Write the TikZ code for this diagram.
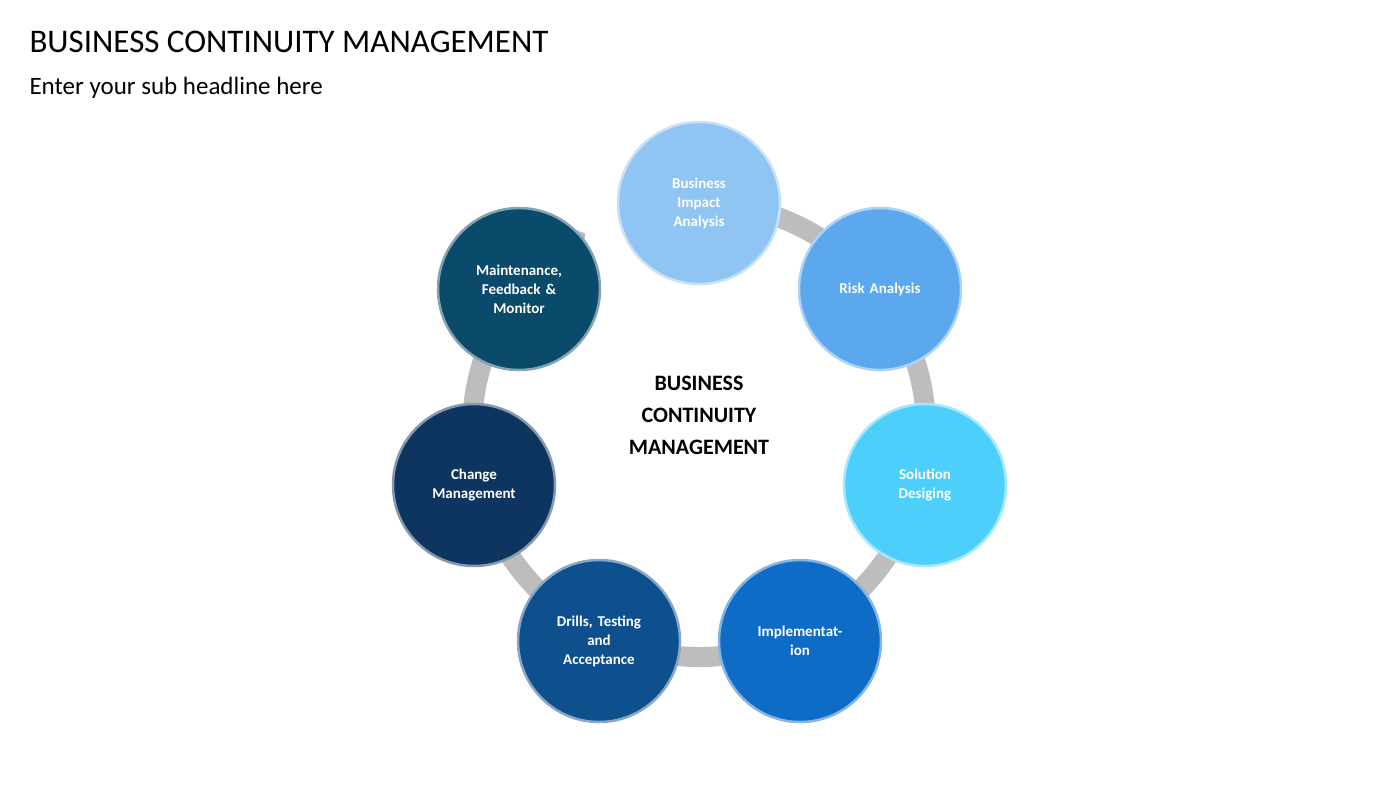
\documentclass[tikz,border=0pt]{standalone}
\usepackage{fontspec}
\setmainfont{Carlito}
\usetikzlibrary{arrows.meta,calc}
\definecolor{bia}{HTML}{90C4F2}
\definecolor{risk}{HTML}{5BA8EE}
\definecolor{sol}{HTML}{4DCFFB}
\definecolor{impl}{HTML}{0F6CC6}
\definecolor{drill}{HTML}{0E4F8E}
\definecolor{chg}{HTML}{0D3560}
\definecolor{maint}{HTML}{0A4A6A}
\definecolor{ringgray}{HTML}{BDBDBD}
\begin{document}
\begin{tikzpicture}[x=1pt,y=-1pt,
    stage/.style={circle,minimum size=162pt,inner sep=0pt,text width=120pt,align=center,
        text=white,font=\fontsize{15}{19}\selectfont\bfseries,line width=2.5pt},
    ring/.style={draw=ringgray,line width=20pt,-{Triangle[length=16pt,width=38pt]}}]
    \useasboundingbox (0,0) rectangle (1400,788);
    \node[anchor=west,font=\fontsize{33}{38}\selectfont] (title) at (26,42) {BUSINESS CONTINUITY MANAGEMENT};
    \node[anchor=west,font=\fontsize{25}{30}\selectfont] (sub) at (26,88) {Enter your sub headline here};

    \coordinate (ctr) at (699,430);
    \draw[ring] ($(ctr)+(-80:227)$) arc[start angle=-80,end angle=240,radius=227];

    \node[stage,fill=bia,draw=bia!50!white] (bia) at (699,203) {Business\\Impact\\Analysis};
    \node[stage,fill=risk,draw=risk!50!white] (risk) at (880,289) {Risk Analysis};
    \node[stage,fill=sol,draw=sol!50!white] (sol) at (925,485) {Solution\\Desiging};
    \node[stage,fill=impl,draw=impl!50!white] (impl) at (800,641) {Implementat-\\ion};
    \node[stage,fill=drill,draw=drill!50!white] (drill) at (599,641) {Drills, Testing\\and\\Acceptance};
    \node[stage,fill=chg,draw=chg!50!white] (chg) at (474,485) {Change\\Management};
    \node[stage,fill=maint,draw=maint!50!white] (maint) at (519,289) {Maintenance,\\Feedback \&\\Monitor};

    \node[align=center,font=\fontsize{22}{32}\selectfont\bfseries] (core) at (699,415) {BUSINESS\\CONTINUITY\\MANAGEMENT};
\end{tikzpicture}
\end{document}
